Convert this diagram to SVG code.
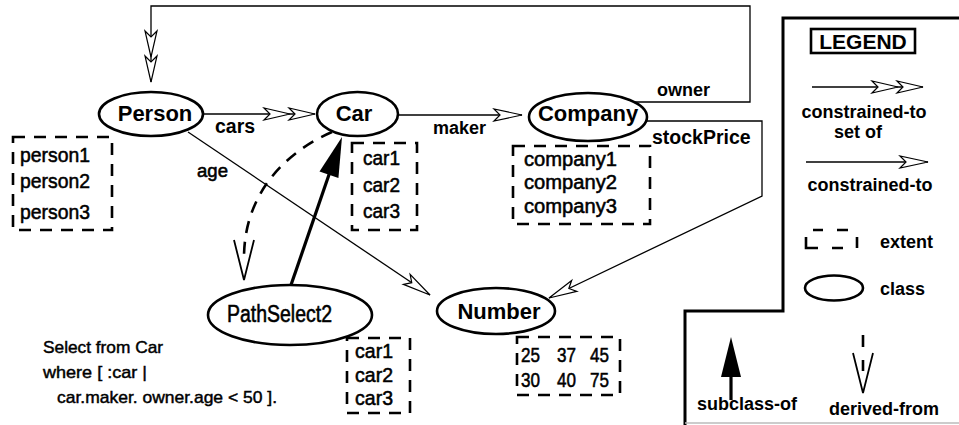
<svg xmlns="http://www.w3.org/2000/svg" width="959" height="425" viewBox="0 0 959 425">
<style>
  .bg{fill:#fff}
  .cls{fill:#fff;stroke:#000;stroke-width:2.6}
  .ext{fill:none;stroke:#000;stroke-width:2.6;stroke-dasharray:12 9}
  .con{fill:none;stroke:#000;stroke-width:1.3}
  .sub{fill:none;stroke:#000;stroke-width:3.2}
  .der{fill:none;stroke:#000;stroke-width:2.6;stroke-dasharray:12 9}
  .ttl{font-family:"Liberation Sans",Arial,sans-serif;font-weight:bold;font-size:22px;fill:#000}
  .lbl{font-family:"Liberation Sans",Arial,sans-serif;font-weight:bold;font-size:18px;fill:#000}
  .lbl19{font-size:19.5px}
  .big{font-size:21px}
  .itm{font-family:"Liberation Sans",Arial,sans-serif;font-size:21px;fill:#000;stroke:#000;stroke-width:0.55}
  .cmp{font-size:20px}
  .ps{font-size:23px}
  .age{font-size:18px}
  .qry{font-family:"Liberation Sans",Arial,sans-serif;font-size:17px;fill:#000;stroke:#000;stroke-width:0.45}
</style>
<defs>
  <marker id="open" markerUnits="userSpaceOnUse" orient="auto" overflow="visible" markerWidth="1" markerHeight="1" refX="0" refY="0">
    <path d="M0,0 L-28,-6 L-22,0 L-28,6 Z" fill="#fff" stroke="#000" stroke-width="1.2"/>
  </marker>
  <marker id="double" markerUnits="userSpaceOnUse" orient="auto" overflow="visible" markerWidth="1" markerHeight="1" refX="0" refY="0">
    <path d="M-25,0 L-51,-6 L-45,0 L-51,6 Z" fill="#fff" stroke="#000" stroke-width="1.2"/>
    <path d="M0,0 L-26,-6 L-20,0 L-26,6 Z" fill="#fff" stroke="#000" stroke-width="1.2"/>
  </marker>
  <marker id="filled" markerUnits="userSpaceOnUse" orient="auto" overflow="visible" markerWidth="1" markerHeight="1" refX="0" refY="0">
    <path d="M35,0 L-5,-10 L-5,10 Z" fill="#000"/>
  </marker>
  <marker id="derived" markerUnits="userSpaceOnUse" orient="auto" overflow="visible" markerWidth="1" markerHeight="1" refX="0" refY="0">
    <path d="M-18,-10 L22,0 L-18,10" fill="none" stroke="#000" stroke-width="1.8"/>
  </marker>
</defs>
<rect class="bg" x="0" y="0" width="959" height="425"/>

<g id="connectors">
  <path id="owner" class="con" d="M634,102 H750 V6 H151 V82" marker-end="url(#double)"/>
  <path id="cars" class="con" d="M203,114 H315" marker-end="url(#double)"/>
  <path id="maker" class="con" d="M399,115 H522" marker-end="url(#open)"/>
  <path id="age" class="con" d="M188,132 L430,295" marker-end="url(#open)"/>
  <path id="stockPrice" class="con" d="M646,121 H762 V196 L549,298" marker-end="url(#open)"/>
  <path id="derived-from" class="der" d="M332,132 C290,150 244,190 244,258" marker-end="url(#derived)"/>
  <path id="subclass-of" class="sub" d="M291,285 L330.6,170.1" marker-end="url(#filled)"/>
  <text class="lbl lbl19" x="215" y="133">cars</text>
  <text class="lbl" x="433" y="134">maker</text>
  <text class="lbl" x="657" y="96">owner</text>
  <text class="lbl lbl19" x="652" y="144">stockPrice</text>
  <text class="itm age" x="197" y="177" textLength="31" lengthAdjust="spacingAndGlyphs">age</text>
</g>

<g id="person">
  <ellipse class="cls" cx="151" cy="114" rx="52" ry="22"/>
  <text class="ttl" x="155" y="121" text-anchor="middle">Person</text>
</g>
<g id="person-extent">
  <rect class="ext" x="13" y="137" width="99" height="93"/>
  <text class="itm" x="20" y="162" textLength="70" lengthAdjust="spacingAndGlyphs">person1</text>
  <text class="itm" x="20" y="188" textLength="70" lengthAdjust="spacingAndGlyphs">person2</text>
  <text class="itm" x="20" y="219" textLength="70" lengthAdjust="spacingAndGlyphs">person3</text>
</g>

<g id="car">
  <ellipse class="cls" cx="357.5" cy="114" rx="40.5" ry="22"/>
  <text class="ttl" x="354" y="121" text-anchor="middle">Car</text>
</g>
<g id="car-extent">
  <rect class="ext" x="352" y="143" width="65" height="87"/>
  <text class="itm" x="363" y="165" textLength="37" lengthAdjust="spacingAndGlyphs">car1</text>
  <text class="itm" x="363" y="192" textLength="37" lengthAdjust="spacingAndGlyphs">car2</text>
  <text class="itm" x="363" y="218" textLength="37" lengthAdjust="spacingAndGlyphs">car3</text>
</g>

<g id="company">
  <ellipse class="cls" cx="588" cy="117" rx="59" ry="24"/>
  <text class="ttl" x="588" y="121" text-anchor="middle">Company</text>
</g>
<g id="company-extent">
  <rect class="ext" x="513" y="146" width="137" height="78"/>
  <text class="itm cmp" x="524" y="166" textLength="93" lengthAdjust="spacingAndGlyphs">company1</text>
  <text class="itm cmp" x="524" y="189" textLength="93" lengthAdjust="spacingAndGlyphs">company2</text>
  <text class="itm cmp" x="524" y="213" textLength="93" lengthAdjust="spacingAndGlyphs">company3</text>
</g>

<g id="number">
  <ellipse class="cls" cx="496" cy="311" rx="59" ry="23"/>
  <text class="ttl" x="499" y="319" text-anchor="middle">Number</text>
</g>
<g id="number-extent">
  <rect class="ext" x="517" y="337" width="103" height="58"/>
  <text class="itm" x="521" y="362" textLength="19" lengthAdjust="spacingAndGlyphs">25</text>
  <text class="itm" x="557" y="362" textLength="19" lengthAdjust="spacingAndGlyphs">37</text>
  <text class="itm" x="590" y="362" textLength="19" lengthAdjust="spacingAndGlyphs">45</text>
  <text class="itm" x="521" y="387" textLength="19" lengthAdjust="spacingAndGlyphs">30</text>
  <text class="itm" x="557" y="387" textLength="19" lengthAdjust="spacingAndGlyphs">40</text>
  <text class="itm" x="590" y="387" textLength="19" lengthAdjust="spacingAndGlyphs">75</text>
</g>

<g id="pathselect2">
  <ellipse class="cls" cx="290" cy="315" rx="82" ry="30"/>
  <text class="itm ps" x="227" y="322" textLength="105" lengthAdjust="spacingAndGlyphs">PathSelect2</text>
</g>
<g id="pathselect2-extent">
  <rect class="ext" x="347" y="338" width="63" height="75"/>
  <text class="itm" x="355" y="358" textLength="38" lengthAdjust="spacingAndGlyphs">car1</text>
  <text class="itm" x="355" y="382" textLength="38" lengthAdjust="spacingAndGlyphs">car2</text>
  <text class="itm" x="355" y="405" textLength="38" lengthAdjust="spacingAndGlyphs">car3</text>
</g>

<g id="query">
  <text class="qry" x="43" y="353" textLength="120" lengthAdjust="spacingAndGlyphs">Select from Car</text>
  <text class="qry" x="43" y="378" textLength="104" lengthAdjust="spacingAndGlyphs">where  [ :car |</text>
  <text class="qry" x="57" y="403" textLength="220" lengthAdjust="spacingAndGlyphs">car.maker. owner.age &lt; 50 ].</text>
</g>

<g id="legend">
  <path d="M959,18 H783 V311 H685 V425" fill="none" stroke="#000" stroke-width="3"/>
  <line x1="685" y1="423" x2="959" y2="423" stroke="#bbb" stroke-width="1.5"/>
  <rect x="811" y="29" width="104" height="24" fill="none" stroke="#000" stroke-width="2.6"/>
  <text class="lbl big" x="863" y="49" text-anchor="middle">LEGEND</text>
  <path class="con" d="M812,87 H923" marker-end="url(#double)"/>
  <text class="lbl" x="864" y="118" text-anchor="middle">constrained-to</text>
  <text class="lbl" x="858" y="138" text-anchor="middle">set of</text>
  <path class="con" d="M806,162 H928" marker-end="url(#open)"/>
  <text class="lbl" x="870" y="191" text-anchor="middle">constrained-to</text>
  <path d="M813,230 H823 M837,230 H848 M806,237 V248 H818 M832,248 H843 M857,237 V248" fill="none" stroke="#000" stroke-width="2.6"/>
  <text class="lbl" x="880" y="248">extent</text>
  <ellipse class="cls" cx="834" cy="288" rx="29" ry="12.5"/>
  <text class="lbl" x="880" y="295">class</text>
  <path class="sub" d="M731,400 V372" marker-end="url(#filled)"/>
  <text class="lbl" x="697" y="410">subclass-of</text>
  <path class="der" d="M863,335 V371" style="stroke-dasharray:12 13" marker-end="url(#derived)"/>
  <text class="lbl" x="829" y="415">derived-from</text>
</g>
</svg>
